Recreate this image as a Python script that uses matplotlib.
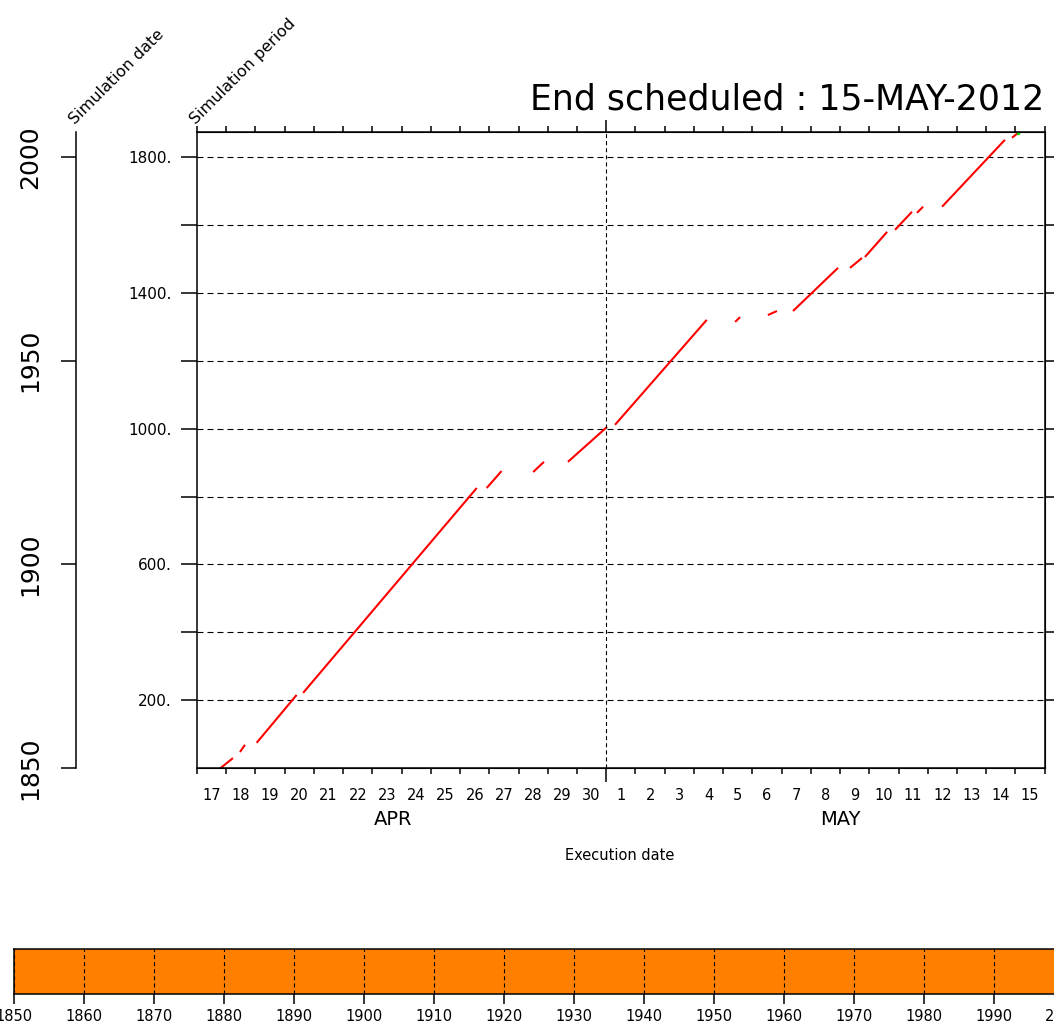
import matplotlib.pyplot as plt
import matplotlib.transforms as mtransforms
from matplotlib.ticker import FixedLocator, FixedFormatter

plt.rcParams['lines.scale_dashes'] = False

# execution time: days since 17-APR-2012 00:00 ; progress: simulated months since JAN-1850
seg_day_start = [0.81, 1.47, 2.04, 3.63, 9.91, 11.50, 12.69, 14.30, 18.41, 19.53,
                 20.39, 22.34, 22.85, 23.88, 24.63, 25.49, 27.88]
seg_day_end = [1.23, 1.64, 3.41, 9.57, 10.42, 11.87, 14.03, 17.44, 18.58, 19.84,
               21.93, 22.75, 23.61, 24.46, 24.84, 27.64, 28.09]
seg_month_start = [1, 48, 75, 222, 825, 872, 902, 1011, 1314, 1334,
                   1346, 1473, 1505, 1585, 1635, 1653, 1856]
seg_month_end = [30, 69, 216, 825, 875, 902, 1005, 1320, 1328, 1346,
                 1473, 1502, 1579, 1638, 1653, 1850, 1870]

n_days = 29
day_labels = [str(d) for d in range(17, 31)] + [str(d) for d in range(1, 16)]
month_names = ['APR', 'MAY']
month_label_day = [6.7, 22.0]
month_change_day = 14

period_months = 1872
period_ticks = [200, 400, 600, 800, 1000, 1200, 1400, 1600, 1800]
period_labels = ['200.', '', '600.', '', '1000.', '', '1400.', '', '1800.']

sim_start = 1850
sim_end = 2000
date_ticks = [1850, 1900, 1950, 2000]
decade_ticks = list(range(1850, 2001, 10))

title = 'End scheduled : 15-MAY-2012'

W, H = 1054, 1030
fx = lambda px: px / W
fy = lambda py: 1 - py / H

fig = plt.figure(figsize=(W / 100, H / 100), dpi=100)

# ---- main panel
top, bottom = 132.3, 768.3
ax = fig.add_axes([fx(197), fy(bottom), (1044.7 - 197) / W, (bottom - top) / H])
for d0, d1, m0, m1 in zip(seg_day_start, seg_day_end, seg_month_start, seg_month_end):
    ax.plot([d0, d1], [m0, m1], color='red', lw=1.5, solid_capstyle='butt')
ax.plot(seg_day_end[-1], seg_month_end[-1], 'o', color='#00cc00', ms=1.5)

ax.set_xlim(0, n_days)
ax.set_ylim(0, period_months)
for s in ax.spines.values():
    s.set_linewidth(1.1)

ax.xaxis.set_major_locator(FixedLocator([d + 0.5 for d in range(n_days)]))
ax.xaxis.set_major_formatter(FixedFormatter(day_labels))
ax.xaxis.set_minor_locator(FixedLocator([d for d in range(n_days + 1) if d != month_change_day]))
ax.tick_params(axis='x', which='major', length=0, pad=14, labelsize=10.5)
ax.tick_params(axis='x', which='minor', length=4.3, width=1.1, direction='out',
               top=True, bottom=True)

ax.yaxis.set_major_locator(FixedLocator(period_ticks))
ax.yaxis.set_major_formatter(FixedFormatter(period_labels))
ax.tick_params(axis='y', length=11.5, width=1.1, direction='out', pad=6.5, labelsize=11)
ax.grid(axis='y', color='black', lw=0.8, linestyle=(0, (4.3, 2.9)))
ax.axvline(month_change_day, color='black', lw=0.8, linestyle=(0, (2.9, 2.2)))

sec_b = ax.secondary_xaxis('bottom')
sec_b.set_xticks([month_change_day])
sec_b.tick_params(length=10, width=1.1, labelbottom=False)
sec_t = ax.secondary_xaxis('top')
sec_t.set_xticks([month_change_day])
sec_t.tick_params(length=8.5, width=1.1, labeltop=False)
sec_r = ax.secondary_yaxis('right')
sec_r.set_yticks(period_ticks)
sec_r.tick_params(length=6.5, width=1.1, labelright=False)

blend = mtransforms.blended_transform_factory(ax.transData, ax.transAxes)
for name, d in zip(month_names, month_label_day):
    ax.text(d, -0.08, name, transform=blend, ha='center', va='center', fontsize=14)
fig.text(fx(620), fy(855), 'Execution date', ha='center', va='center', fontsize=10.5)

# ---- simulation date axis
ax2 = fig.add_axes([fx(75.5), fy(bottom), 0.0001, (bottom - top) / H])
ax2.set_ylim(sim_start, sim_start + period_months / 12)
for k in ['top', 'right', 'bottom']:
    ax2.spines[k].set_visible(False)
ax2.spines['left'].set_linewidth(1.1)
ax2.set_xticks([])
ax2.set_yticks(date_ticks)
ax2.set_yticklabels([str(v) for v in date_ticks], rotation=90, va='center')
ax2.tick_params(axis='y', length=11, width=1.1, pad=13, labelsize=18)

fig.text(fx(77), fy(127), 'Simulation date', rotation=45, rotation_mode='anchor',
         ha='left', va='bottom', fontsize=11.5)
fig.text(fx(198), fy(127), 'Simulation period', rotation=45, rotation_mode='anchor',
         ha='left', va='bottom', fontsize=11.5)
fig.text(fx(1044), fy(109), title, ha='right', va='baseline', fontsize=25)

# ---- simulation period bar
ax3 = fig.add_axes([fx(14), fy(994), (1064 - 14) / W, (994 - 949) / H])
ax3.barh(0, sim_end - sim_start, left=sim_start, height=1, color='#ff8000')
ax3.set_xlim(sim_start, sim_end)
ax3.set_ylim(-0.5, 0.5)
ax3.set_yticks([])
ax3.set_xticks(decade_ticks)
ax3.tick_params(axis='x', length=7, width=1.1, pad=4, labelsize=10.5)
ax3.grid(axis='x', color='black', lw=0.8, linestyle=(0, (2.9, 2.2)))
for s in ax3.spines.values():
    s.set_linewidth(1.1)

fig.savefig('out.png', dpi=100)
